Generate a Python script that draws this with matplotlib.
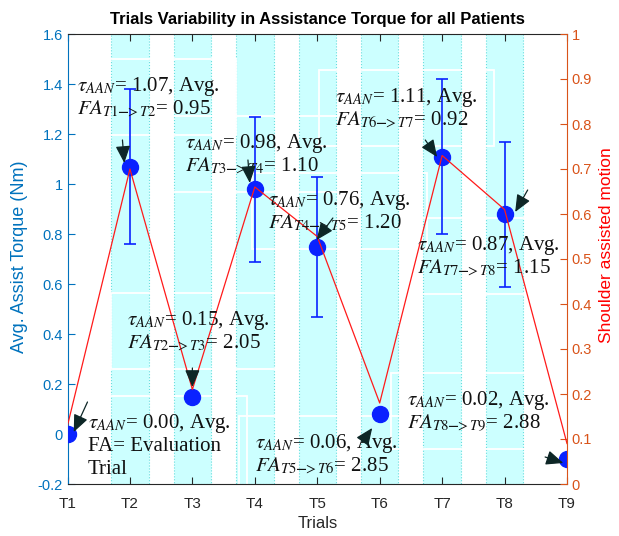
import numpy as np
import matplotlib
matplotlib.use("Agg")
import matplotlib.pyplot as plt
from matplotlib.patches import Rectangle
from matplotlib.transforms import IdentityTransform, Bbox

# ---------------- data ----------------
trials = ["T1", "T2", "T3", "T4", "T5", "T6", "T7", "T8", "T9"]
torque = [0.00, 1.07, 0.15, 0.98, 0.75, 0.08, 1.11, 0.88, -0.10]
torque_err = [np.nan, 0.31, np.nan, 0.29, 0.28, np.nan, 0.31, 0.29, np.nan]
shoulder = [0.13, 0.70, 0.21, 0.66, 0.55, 0.18, 0.73, 0.61, 0.09]
band_trials = ["T2", "T3", "T4", "T5", "T6", "T7", "T8"]

tau_vals = ["0.00", "1.07", "0.15", "0.98", "0.76", "0.06", "1.11", "0.87", "0.02"]
fa_vals = [None, "0.95", "2.05", "1.10", "1.20", "2.85", "0.92", "1.15", "2.88"]
# text anchors (x in trial units, y in left-axis units)
text_pos = [(1.33, 0.024), (1.15, 1.372), (1.95, 0.436), (2.88, 1.144), (4.21, 0.916),
            (4.00, -0.056), (5.28, 1.328), (6.60, 0.736), (6.44, 0.116)]
arrow_tail = [(1.32, 0.128), (1.88, 1.176), (3.0, 0.264), (3.89, 1.096), (5.25, 0.864),
              (5.72, -0.032), (6.73, 1.176), (8.37, 0.976), (8.65, -0.092)]
arrow_head = [(1.10, 0.008), (1.91, 1.084), (3.0, 0.188), (3.92, 1.004), (4.99, 0.776),
              (5.88, 0.024), (6.92, 1.108), (8.17, 0.888), (8.94, -0.116)]

left_ticks = [-0.2, 0, 0.2, 0.4, 0.6, 0.8, 1, 1.2, 1.4, 1.6]
right_ticks = [0, 0.1, 0.2, 0.3, 0.4, 0.5, 0.6, 0.7, 0.8, 0.9, 1]

# ---------------- style ----------------
plt.rcParams["font.family"] = ["Liberation Sans", "DejaVu Sans"]
plt.rcParams["mathtext.fontset"] = "stix"

BLUE_AX = "#0072BD"
ORANGE_AX = "#D95319"
MARK = "#0a22ff"
DARK = "#262626"

fig = plt.figure(figsize=(6.19, 5.36), dpi=100)
ax = fig.add_axes([67.5 / 619, 52 / 536, 499.5 / 619, 450 / 536])
x = np.arange(1, len(trials) + 1)

# background bands
bx = [trials.index(t) + 1 for t in band_trials]
ax.bar(bx, [1.8] * len(bx), bottom=-0.2, width=0.6, color="#ccffff",
       edgecolor="#66dede", linestyle=":", linewidth=0.8, zorder=0)

ax.errorbar(x, torque, yerr=torque_err, fmt="none", ecolor=MARK, elinewidth=1.2,
            capsize=4.5, capthick=1.2, zorder=3)
ax.plot(x, torque, "o", color=MARK, markersize=11.5, zorder=4, clip_on=True)

ax.set_xlim(1, 9)
ax.set_ylim(-0.2, 1.6)
ax.set_xticks(x)
ax.set_xticklabels(trials)
ax.set_yticks(left_ticks)
ax.set_yticklabels([f"{v:g}" for v in left_ticks])
ax.tick_params(axis="y", colors=BLUE_AX, direction="in", length=5, labelsize=10.5)
ax.tick_params(axis="x", colors=DARK, direction="in", length=5, labelsize=11, top=True, pad=9)
ax.spines["left"].set_color(BLUE_AX)
ax.spines["top"].set_color(DARK)
ax.spines["bottom"].set_color(DARK)
ax.spines["right"].set_visible(False)
ax.set_ylabel("Avg. Assist Torque (Nm)", color=BLUE_AX, fontsize=13,
              rotation=90, va="center", ha="center")
ax.yaxis.set_label_coords(-0.097, 0.505)
ax.set_xlabel("Trials", color=DARK, fontsize=12, labelpad=4)
ax.set_title("Trials Variability in Assistance Torque for all Patients",
             fontsize=12, fontweight="bold", pad=7)

ax2 = ax.twinx()
ax2.plot(x, shoulder, "-", color="#ff1a1a", linewidth=0.9, zorder=2)
ax2.set_ylim(0, 1)
ax2.set_yticks(right_ticks)
ax2.set_yticklabels([f"{v:g}" for v in right_ticks])
ax2.tick_params(axis="y", colors=ORANGE_AX, direction="in", length=5, labelsize=10.5)
ax2.spines["right"].set_color(ORANGE_AX)
for s in ("left", "top", "bottom"):
    ax2.spines[s].set_visible(False)
ax2.set_ylabel("Shoulder assisted motion", color="#ff0000", fontsize=12.5,
               rotation=90, va="center", ha="center")
ax2.yaxis.set_label_coords(1.08, 0.53)

# annotations (drawn on ax2 but in ax data coords)
tf = ax.transData
groups = []
for i in range(len(trials)):
    tx, ty = text_pos[i]
    lines = [r"$\tau_{AAN}$= " + tau_vals[i] + ", Avg."]
    if fa_vals[i] is None:
        lines += ["FA= Evaluation", "Trial"]
    else:
        lines += [r"$FA_{T%d\mathbf{-}\!\!>T%d}$= %s" % (i, i + 1, fa_vals[i])]
    g = []
    for k, ln in enumerate(lines):
        t = ax2.annotate(ln, xy=(tx, ty), xycoords=tf, xytext=(0, -23 * k),
                         textcoords="offset pixels", ha="left", va="baseline",
                         fontsize=15, family=["Liberation Serif", "DejaVu Serif"],
                         color="#111111", zorder=6)
        g.append(t)
    groups.append(g)
    ax2.annotate("", xy=arrow_head[i], xycoords=tf, xytext=arrow_tail[i], textcoords=tf,
                 arrowprops=dict(arrowstyle="-|>,head_length=0.7,head_width=0.3",
                                 color="#0d2626", lw=0.9, shrinkA=0, shrinkB=0,
                                 mutation_scale=15), zorder=7)

# white text-box outlines (visible only over the cyan bands)
fig.canvas.draw()
r = fig.canvas.get_renderer()
for g in groups:
    bb = Bbox.union([t.get_window_extent(r) for t in g])
    pad = 16
    rect = Rectangle((bb.x0 - pad, bb.y0 - pad), bb.width + 2 * pad, bb.height + 2 * pad,
                     transform=IdentityTransform(), fill=False, edgecolor="white",
                     linewidth=1.3, zorder=1)
    ax.add_patch(rect)

fig.savefig("out.png", dpi=100)
